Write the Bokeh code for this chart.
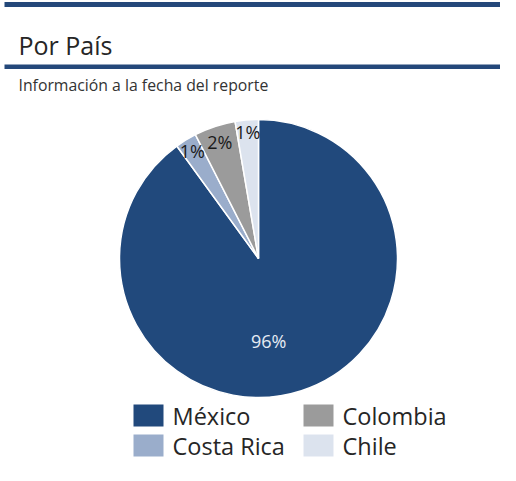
import numpy as np
from bokeh.plotting import figure
from bokeh.models import Range1d, ColumnDataSource
from bokeh.core.properties import value
from bokeh.embed import file_html
from bokeh.resources import INLINE

# ---- data ----
countries = ["México", "Costa Rica", "Colombia", "Chile"]
shares = [90.0, 2.5, 4.8, 2.7]          # slice sizes
pct_labels = ["96%", "1%", "2%", "1%"]  # labels as printed on the chart
colors = ["#21497c", "#9aadcb", "#9b9b9b", "#dce3ee"]
title = "Por País"
subtitle = "Información a la fecha del reporte"

W, H = 500, 465
FONT = "Open Sans"

# data coordinates = pixels from the figure's top-left corner
p = figure(width=W, height=H, output_backend="svg", toolbar_location=None,
           x_range=Range1d(0, W), y_range=Range1d(0, H), min_border=0)
p.axis.visible = False
p.grid.visible = False
p.outline_line_color = None
p.background_fill_color = "white"

def Y(v):
    return H - v

# header rules
p.quad(left=[4, 4], right=[W, W], top=[Y(1.5), Y(64)], bottom=[Y(6.5), Y(68.5)],
       fill_color="#24487a", line_color=None)
p.text(x=[18], y=[Y(44)], text=[title], text_font=value(FONT), text_font_size="25px",
       text_color="#262626", text_baseline="middle")
p.text(x=[18], y=[Y(84)], text=[subtitle], text_font=value(FONT), text_font_size="15.8px",
       text_color="#333333", text_baseline="middle")

# pie
cx, cy, r = 258, Y(258), 139
frac = np.array(shares) / sum(shares)
cum = np.concatenate([[0], np.cumsum(frac)])
start = np.pi / 2 - 2 * np.pi * cum[:-1]
end = np.pi / 2 - 2 * np.pi * cum[1:]
mid = (start + end) / 2
src = ColumnDataSource(dict(start=start, end=end, color=colors, name=countries))
p.wedge(x=cx, y=cy, radius=r, start_angle="start", end_angle="end", direction="clock",
        fill_color="color", line_color="white", line_width=1.5, source=src)

lab_r = np.array([0.60, 0.91, 0.885, 0.915]) * r
lab_ang = mid.copy()
lab_ang[0] = mid[0] - np.deg2rad(11)
lx = cx + lab_r * np.cos(lab_ang)
ly = cy + lab_r * np.sin(lab_ang)
lab_colors = ["#e6ecf4", "#1a1a1a", "#1a1a1a", "#1a1a1a"]
lab_sizes = ["18px", "18px", "18px", "18px"]
p.text(x=lx, y=ly, text=pct_labels, text_color=lab_colors, text_font_size=lab_sizes,
       text_font=value(FONT), text_align="center", text_baseline="middle")

# legend (2 columns, column-major order)
idx = np.arange(len(countries))
col = idx // 2
row = idx % 2
sw_x = 148 + col * 170
sw_y = Y(415 + row * 30)
p.rect(x=sw_x, y=sw_y, width=30, height=22, fill_color=colors, line_color=None)
p.text(x=sw_x + 24, y=sw_y, text=countries, text_font=value(FONT), text_font_size="23.5px",
       text_color="#262626", text_baseline="middle")

open("out.html", "w").write(file_html(p, INLINE))
